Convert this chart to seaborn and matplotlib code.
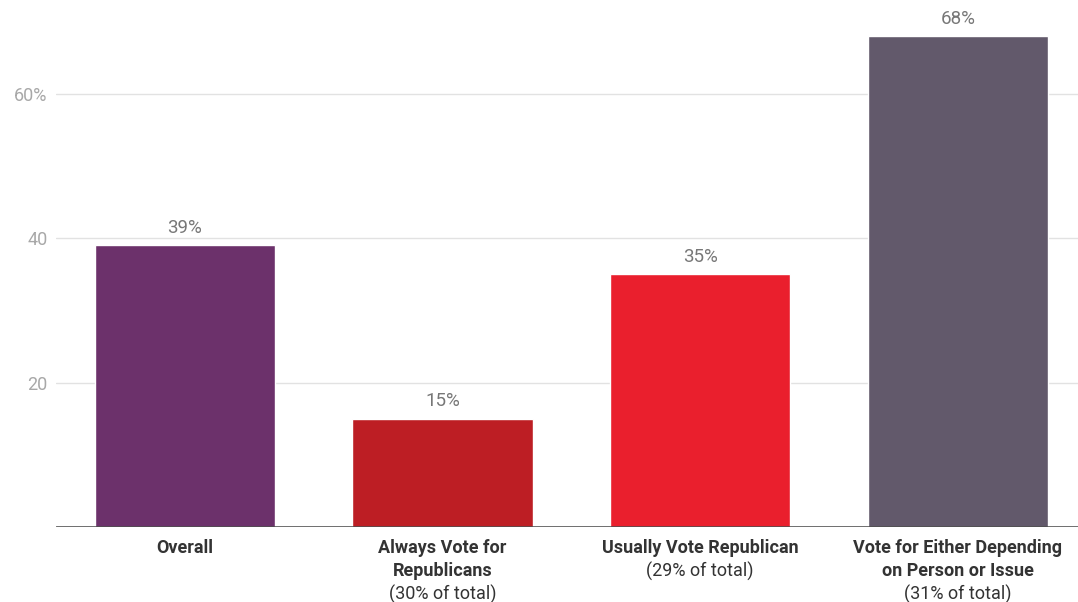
import pandas as pd
import numpy as np
import matplotlib.pyplot as plt
import seaborn as sns

categories = ["Overall", "Always Vote for\nRepublicans", "Usually Vote Republican",
              "Vote for Either Depending\non Person or Issue"]
sub_labels = ["", "(30% of total)", "(29% of total)", "(31% of total)"]
values = [39, 15, 35, 68]
colors = ["#6c316b", "#bd1e24", "#ea1f2d", "#62596b"]
yticks = [20, 40, 60]
ytick_labels = ["20", "40", "60%"]

sns.set_style("white")
plt.rcParams['font.family'] = ['Roboto', 'DejaVu Sans']

df = pd.DataFrame({"cat": categories, "val": values})

fig = plt.figure(figsize=(10.78, 6.02), dpi=100)
ax = fig.add_axes([56 / 1078, 1 - 527 / 602, 1 - 56 / 1078, 527 / 602])

sns.barplot(data=df, x="cat", y="val", hue="cat", palette=colors, legend=False,
            width=0.7, saturation=1, ax=ax, zorder=3)

ax.set_xlim(-0.5, 3.466)
ax.set_ylim(0, 73)
ax.set_yticks(yticks)
ax.set_yticklabels(ytick_labels)
ax.tick_params(axis='y', length=0, pad=6, labelsize=13, labelcolor="#a8a8a8")
ax.yaxis.grid(True, color="#e2e2e2", linewidth=1, zorder=0)
ax.set_axisbelow(True)
ax.set_xticks([])
ax.set_xlabel("")
ax.set_ylabel("")
for s in ax.spines.values():
    s.set_visible(False)
ax.axhline(0, color="#444444", linewidth=1.8, zorder=4)

# Value labels
for c in ax.containers:
    ax.bar_label(c, labels=[f"{v:.0f}%" for v in c.datavalues], padding=6,
                 fontsize=13.5, color="#777777")

# Category labels: bold lines then the regular sub label, 23 px apart
for i, (name, sub) in enumerate(zip(categories, sub_labels)):
    lines = [(t, 'bold') for t in name.split("\n")]
    if sub:
        lines.append((sub, 'normal'))
    for k, (t, w) in enumerate(lines):
        ax.annotate(t, xy=(i, 0), xycoords=('data', 'axes fraction'),
                    xytext=(0, -21 - 23 * k), textcoords='offset pixels',
                    ha='center', va='center', fontsize=13, fontweight=w,
                    color="#333333")

fig.savefig("out.png", dpi=100)
